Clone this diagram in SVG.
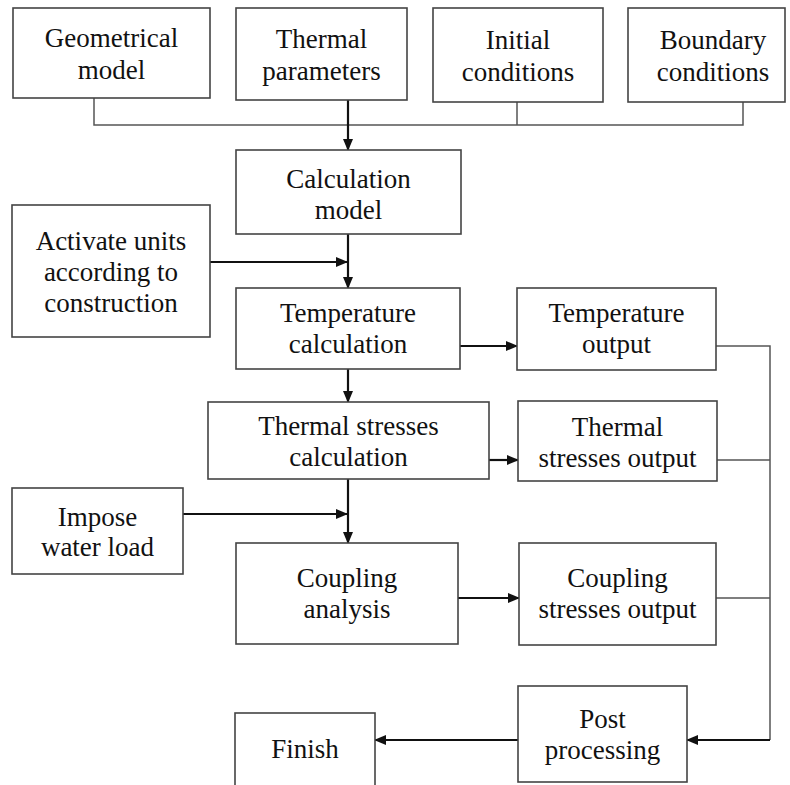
<svg xmlns="http://www.w3.org/2000/svg" width="790" height="785" viewBox="0 0 790 785">
<defs>
<marker id="ah" markerUnits="userSpaceOnUse" markerWidth="12" markerHeight="10" refX="11" refY="5" orient="auto">
<path d="M0,0 L12,5 L0,10 Z" fill="#111"/>
</marker>
</defs>
<style>
.box{fill:#fff;stroke:#444;stroke-width:1.6}
.t{font-family:"Liberation Serif","Times New Roman",serif;font-size:27px;fill:#111;text-anchor:middle}
.thin{fill:none;stroke:#555;stroke-width:1.5}
.arr{fill:none;stroke:#111;stroke-width:2.2;marker-end:url(#ah)}
.ln{fill:none;stroke:#111;stroke-width:2.2}
</style>
<rect width="790" height="785" fill="#fff"/>
<g id="connectors">
<polyline class="thin" points="94,98 94,125 743,125 743,102"/>
<line class="thin" x1="517" y1="102" x2="517" y2="125"/>
<line class="arr" x1="348" y1="100" x2="348" y2="150"/>
<line class="arr" x1="348" y1="234" x2="348" y2="288"/>
<line class="arr" x1="210" y1="262" x2="347" y2="262"/>
<line class="arr" x1="460" y1="346" x2="517" y2="346"/>
<line class="arr" x1="348" y1="369" x2="348" y2="402"/>
<line class="arr" x1="489" y1="460" x2="518" y2="460"/>
<line class="arr" x1="348" y1="479" x2="348" y2="543"/>
<line class="arr" x1="183" y1="514" x2="347" y2="514"/>
<line class="arr" x1="458" y1="598" x2="519" y2="598"/>
<polyline class="thin" points="716,346 770,346 770,740"/>
<line class="thin" x1="717" y1="460" x2="770" y2="460"/>
<line class="thin" x1="716" y1="598" x2="770" y2="598"/>
<line class="arr" x1="770" y1="740" x2="687" y2="740"/>
<line class="arr" x1="518" y1="740" x2="375" y2="740"/>
</g>
<g id="geometrical-model">
<rect class="box" x="13" y="8" width="197" height="90"/>
<text class="t" x="111.5" y="47">Geometrical</text>
<text class="t" x="111.5" y="79">model</text>
</g>
<g id="thermal-parameters">
<rect class="box" x="236" y="8" width="171" height="92"/>
<text class="t" x="321.5" y="48">Thermal</text>
<text class="t" x="321.5" y="80">parameters</text>
</g>
<g id="initial-conditions">
<rect class="box" x="433" y="8" width="170" height="94"/>
<text class="t" x="518" y="49">Initial</text>
<text class="t" x="518" y="81">conditions</text>
</g>
<g id="boundary-conditions">
<rect class="box" x="628" y="8" width="157" height="94"/>
<text class="t" x="713" y="49">Boundary</text>
<text class="t" x="713" y="81">conditions</text>
</g>
<g id="calculation-model">
<rect class="box" x="236" y="150" width="225" height="84"/>
<text class="t" x="348.5" y="188">Calculation</text>
<text class="t" x="348.5" y="219">model</text>
</g>
<g id="activate-units">
<rect class="box" x="12" y="205" width="198" height="132"/>
<text class="t" x="111" y="250">Activate units</text>
<text class="t" x="111" y="281">according to</text>
<text class="t" x="111" y="312">construction</text>
</g>
<g id="temperature-calculation">
<rect class="box" x="236" y="288" width="224" height="81"/>
<text class="t" x="348" y="322">Temperature</text>
<text class="t" x="348" y="353">calculation</text>
</g>
<g id="temperature-output">
<rect class="box" x="517" y="288" width="199" height="82"/>
<text class="t" x="616.5" y="322">Temperature</text>
<text class="t" x="616.5" y="353">output</text>
</g>
<g id="thermal-stresses-calculation">
<rect class="box" x="208" y="402" width="281" height="77"/>
<text class="t" x="348.5" y="435">Thermal stresses</text>
<text class="t" x="348.5" y="466">calculation</text>
</g>
<g id="thermal-stresses-output">
<rect class="box" x="518" y="401" width="199" height="80"/>
<text class="t" x="617.5" y="436">Thermal</text>
<text class="t" x="617.5" y="467">stresses output</text>
</g>
<g id="impose-water-load">
<rect class="box" x="12" y="488" width="171" height="86"/>
<text class="t" x="97.5" y="526">Impose</text>
<text class="t" x="97.5" y="556">water load</text>
</g>
<g id="coupling-analysis">
<rect class="box" x="236" y="543" width="222" height="101"/>
<text class="t" x="347" y="587">Coupling</text>
<text class="t" x="347" y="618">analysis</text>
</g>
<g id="coupling-stresses-output">
<rect class="box" x="519" y="543" width="197" height="102"/>
<text class="t" x="617.5" y="587">Coupling</text>
<text class="t" x="617.5" y="618">stresses output</text>
</g>
<g id="post-processing">
<rect class="box" x="518" y="686" width="169" height="96"/>
<text class="t" x="602.5" y="728">Post</text>
<text class="t" x="602.5" y="759">processing</text>
</g>
<g id="finish">
<rect class="box" x="235" y="713" width="140" height="80"/>
<text class="t" x="305" y="758">Finish</text>
</g>
</svg>
